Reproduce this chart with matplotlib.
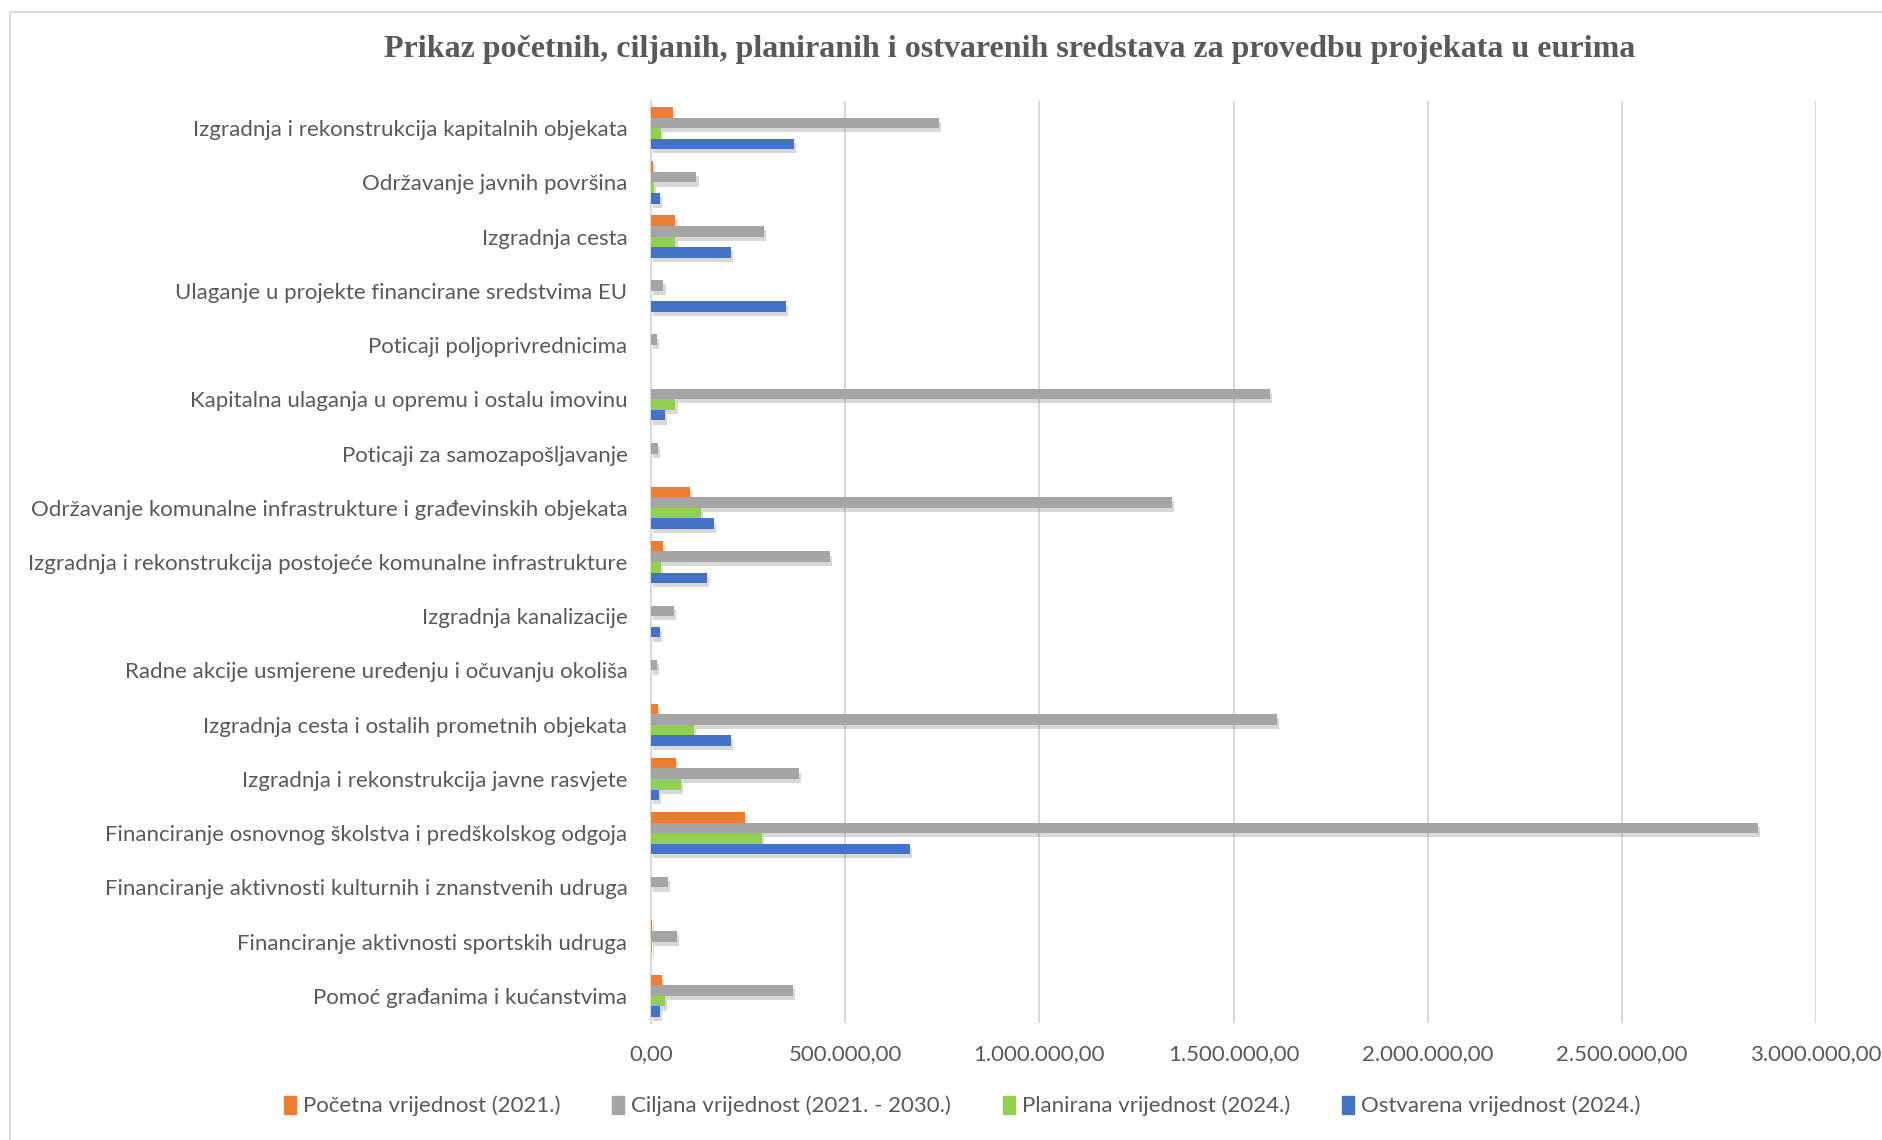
import numpy as np
import matplotlib.pyplot as plt
import matplotlib.patheffects as pe
from matplotlib.ticker import FuncFormatter
from matplotlib.patches import Rectangle

labelsize = 16
textcolor = '#595959'

# categories, top to bottom
categories = [
    'Izgradnja i rekonstrukcija kapitalnih objekata',
    'Održavanje javnih površina',
    'Izgradnja cesta',
    'Ulaganje u projekte financirane sredstvima EU',
    'Poticaji poljoprivrednicima',
    'Kapitalna ulaganja u opremu i ostalu imovinu',
    'Poticaji za samozapošljavanje',
    'Održavanje komunalne infrastrukture i građevinskih objekata',
    'Izgradnja i rekonstrukcija postojeće komunalne infrastrukture',
    'Izgradnja kanalizacije',
    'Radne akcije usmjerene uređenju i očuvanju okoliša',
    'Izgradnja cesta i ostalih prometnih objekata',
    'Izgradnja i rekonstrukcija javne rasvjete',
    'Financiranje osnovnog školstva i predškolskog odgoja',
    'Financiranje aktivnosti kulturnih i znanstvenih udruga',
    'Financiranje aktivnosti sportskih udruga',
    'Pomoć građanima i kućanstvima',
]

# values in euros
pocetna = [56000, 4600, 63000, 0, 0, 0, 0, 101000, 31000, 0, 0, 17000, 64000, 243000, 0, 2000, 28000]
ciljana = [741000, 117000, 292000, 32000, 15000, 1593000, 18000, 1341000, 462000, 60000, 16000,
           1613000, 380000, 2851000, 43000, 68000, 365000]
planirana = [25000, 7000, 63000, 0, 0, 63000, 0, 129000, 25000, 0, 0, 110000, 77000, 285000, 0, 2000, 35000]
ostvarena = [369000, 23000, 207000, 348000, 0, 37000, 0, 161000, 143000, 22000, 0, 207000, 20000,
             668000, 0, 0, 24000]

series = [
    ('Početna vrijednost (2021.)', pocetna, '#ED7D31'),
    ('Ciljana vrijednost (2021. - 2030.)', ciljana, '#A5A5A5'),
    ('Planirana vrijednost (2024.)', planirana, '#92D050'),
    ('Ostvarena vrijednost (2024.)', ostvarena, '#4472C4'),
]

fig = plt.figure(figsize=(18.83, 11.40), dpi=100)
ax = fig.add_axes([651/1883, 1-1023/1140, (1816-651)/1883, (1023-101)/1140])

# chart area border
fig.patches.append(Rectangle((10/1883, -0.1), 1.2, 1-12/1140+0.1, transform=fig.transFigure,
                             fill=False, edgecolor='#D9D9D9', linewidth=1.5, zorder=0))

n = len(categories)
y = np.arange(n)
h = 0.195
shadow = [pe.SimplePatchShadow(offset=(1.5, -3), shadow_rgbFace='#7f7f7f', alpha=0.3), pe.Normal()]
handles = []
for i, (name, vals, col) in enumerate(series):
    pos = y - 1.5*h + i*h
    bars = ax.barh(pos, vals, height=h, color=col, zorder=3)
    for b in bars:
        b.set_path_effects(shadow)
    handles.append(plt.Rectangle((0, 0), 1, 1, color=col, label=name))

ax.set_ylim(n-0.5, -0.5)
ax.set_xlim(0, 3000000)
ax.set_xticks(np.arange(0, 3000001, 500000))

def fmt(v, p):
    s = '{:,.2f}'.format(v)
    return s.replace(',', 'X').replace('.', ',').replace('X', '.')

ax.xaxis.set_major_formatter(FuncFormatter(fmt))
ax.set_yticks(y)
ax.set_yticklabels(categories)
ax.tick_params(axis='both', length=0, labelsize=labelsize, labelcolor=textcolor)
ax.tick_params(axis='y', pad=17)
ax.tick_params(axis='x', pad=15)
for lab in ax.get_xticklabels() + ax.get_yticklabels():
    lab.set_family('Lato')

ax.grid(axis='x', color='#D9D9D9', linewidth=1.5, zorder=0)
for s in ['top', 'right', 'bottom']:
    ax.spines[s].set_visible(False)
ax.spines['left'].set_color('#D9D9D9')
ax.spines['left'].set_linewidth(1.5)

fig.text(1010/1883, 1-50/1140, 'Prikaz početnih, ciljanih, planiranih i ostvarenih sredstava za provedbu projekata u eurima',
         ha='center', va='center', fontsize=23, fontweight='bold', color=textcolor, family='Liberation Serif')

leg = fig.legend(handles=handles, loc='center', bbox_to_anchor=(962/1883, 1-1106/1140), ncol=4, frameon=False,
                 prop={'family': 'Lato', 'size': labelsize}, handlelength=0.55, handleheight=0.9,
                 handletextpad=0.3, columnspacing=2.33)
for t in leg.get_texts():
    t.set_color(textcolor)

fig.savefig('out.png', dpi=100)
